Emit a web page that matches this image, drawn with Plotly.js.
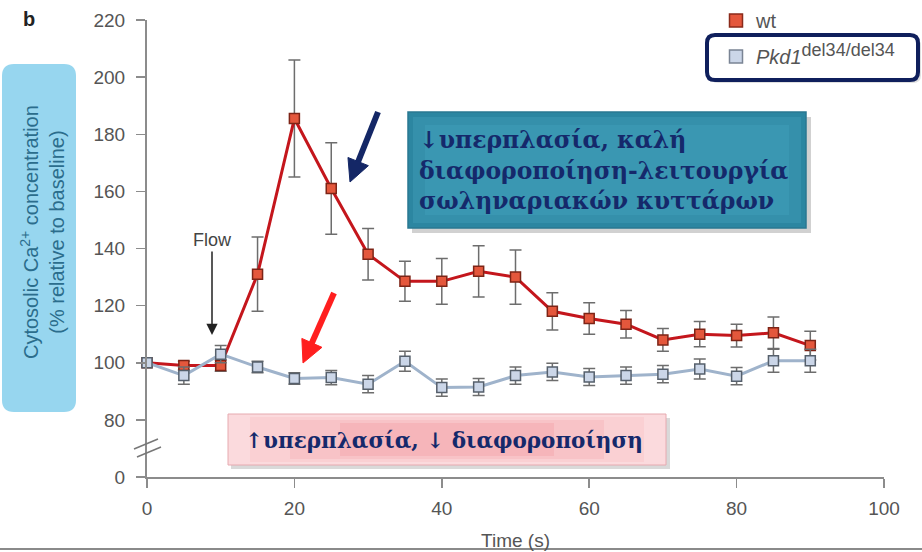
<!DOCTYPE html>
<html>
<head>
<meta charset="utf-8">
<script src="https://cdn.plot.ly/plotly-3.0.1.min.js"></script>
<style>html,body{margin:0;padding:0;background:#fff;}#chart{width:922px;height:552px;}</style>
</head>
<body>
<div id="chart"></div>
<script>
// ---- data ----
const timeS = [0,5,10,15,20,25,30,35,40,45,50,55,60,65,70,75,80,85,90];
const wtValues = [100,99,99,131,185.5,161,138,128.5,128.5,132,130,118,115.5,113.5,108,110,109.5,110.5,106];
const wtErr = [1,1.5,2,13,20.5,16,9,7,8,9,9.5,6.5,5.5,4.8,4,4.4,4,5.5,5];
const pkdValues = [100,95.5,103,98.5,94.5,94.8,92.5,100.5,91.3,91.5,95.5,96.8,95,95.5,96,97.8,95.3,100.7,100.7];
const pkdErr = [1,3,3,2,2,2.5,3,3.5,3,3,3,3,3,3,3,3.5,3,4,4];
const yTickVals = [60,80,100,120,140,160,180,200,220];
const yTickText = ['0','80','100','120','140','160','180','200','220'];
const xTickVals = [0,20,40,60,80,100];

// ---- layout helpers (pixel -> paper) ----
const L = 147, R = 38, T = 20, B = 75, W = 922, H = 552;
const PW = W - L - R, PH = H - T - B;
const px = x => (x - L) / PW;
const py = y => (H - B - y) / PH;
const pp = (x, y) => px(x) + ',' + py(y);
function roundRect(x0, y0, x1, y1, r) {
  return 'M' + pp(x0 + r, y0) + ' L' + pp(x1 - r, y0) + ' Q' + pp(x1, y0) + ' ' + pp(x1, y0 + r) +
    ' L' + pp(x1, y1 - r) + ' Q' + pp(x1, y1) + ' ' + pp(x1 - r, y1) +
    ' L' + pp(x0 + r, y1) + ' Q' + pp(x0, y1) + ' ' + pp(x0, y1 - r) +
    ' L' + pp(x0, y0 + r) + ' Q' + pp(x0, y0) + ' ' + pp(x0 + r, y0) + ' Z';
}
function rect(x0, y0, x1, y1, fill, line, lw) {
  return {type:'rect', xref:'paper', yref:'paper', x0:px(x0), x1:px(x1), y0:py(y1), y1:py(y0),
    fillcolor:fill, line:{color:line || 'rgba(0,0,0,0)', width:lw || 0}, layer:'below'};
}
function arrowShapes(tx, ty, hx, hy, color, w, headLen, headHalf) {
  const dx = hx - tx, dy = hy - ty, len = Math.hypot(dx, dy);
  const ux = dx / len, uy = dy / len, nx = -uy, ny = ux;
  const bx = hx - headLen * ux, by = hy - headLen * uy;
  return [
    {type:'line', xref:'paper', yref:'paper', x0:px(tx), y0:py(ty), x1:px(bx + ux), y1:py(by + uy),
     line:{color:color, width:w}, layer:'above'},
    {type:'path', xref:'paper', yref:'paper', layer:'above', fillcolor:color, line:{color:color, width:1},
     path:'M' + pp(hx, hy) + ' L' + pp(bx + headHalf * nx, by + headHalf * ny) + ' L' + pp(bx - headHalf * nx, by - headHalf * ny) + ' Z'}
  ];
}

const navy = '#15296b';
const errStyle = {type:'data', visible:true, thickness:1.5, width:6, color:'#6d6d6d'};

const traces = [
  {x: timeS, y: wtValues, mode:'lines+markers', name:'wt', showlegend:false,
   line:{color:'#c4161c', width:3},
   marker:{symbol:'square', size:10, color:'#e4573c', line:{color:'#7d2416', width:1.5}},
   error_y: Object.assign({array: wtErr}, errStyle), cliponaxis:false},
  {x: timeS, y: pkdValues, mode:'lines+markers', name:'Pkd1', showlegend:false,
   line:{color:'#9fb3cb', width:3},
   marker:{symbol:'square', size:10, color:'#cbd6e8', line:{color:'#56606c', width:1.5}},
   error_y: Object.assign({array: pkdErr}, errStyle), cliponaxis:false},
  {x:[null], y:[null], mode:'markers', name:'wt', legendgroup:'a',
   marker:{symbol:'square', size:13, color:'#e4573c', line:{color:'#8a2a1a', width:1.5}}},
  {x:[null], y:[null], mode:'markers', name:'<i>Pkd1</i><sup><span style="font-size:18px">del34/del34</span></sup>', legendgroup:'b',
   marker:{symbol:'square', size:13, color:'#cbd6e8', line:{color:'#7a8494', width:1.5}}}
];

const shapes = [
  // y-title background
  {type:'path', xref:'paper', yref:'paper', path: roundRect(2, 64, 76, 412, 12), fillcolor:'#97d6ef', line:{width:0}, layer:'below'},
  // teal box shadow + box
  rect(412, 117, 811, 233, 'rgba(0,0,0,0.18)'),
  rect(408, 112, 806, 228, '#2c86a1', '#2a7891', 1.5),
  rect(413, 117, 801, 223, '#3590ab'),
  rect(425, 125, 789, 215, '#3a97b2'),
  // pink box shadow + box
  rect(231, 418, 670, 469, 'rgba(0,0,0,0.15)'),
  rect(228, 414, 666, 465, '#fbdadd', '#e6aab0', 1),
  rect(250, 417, 644, 462, '#fad0d3'),
  rect(290, 420, 604, 459, '#f8c3c7'),
  rect(340, 423, 554, 456, '#f6b5ba'),
  // legend highlight box
  {type:'path', xref:'paper', yref:'paper', path: roundRect(710, 38, 921, 83, 8), fillcolor:'rgba(0,0,0,0.12)', line:{width:0}, layer:'below'},
  {type:'path', xref:'paper', yref:'paper', path: roundRect(707, 35, 918, 80, 8), fillcolor:'#ffffff', line:{color:'#0f1f5c', width:4}, layer:'below'},
  // axis break marks
  {type:'line', xref:'paper', yref:'paper', x0:px(134), y0:py(449), x1:px(158), y1:py(439), line:{color:'#777', width:1.5}, layer:'above'},
  {type:'line', xref:'paper', yref:'paper', x0:px(137), y0:py(457), x1:px(161), y1:py(447), line:{color:'#777', width:1.5}, layer:'above'},
  // bottom frame line
  {type:'line', xref:'paper', yref:'paper', x0:px(0), y0:py(549), x1:px(922), y1:py(549), line:{color:'#8a8a8a', width:2}}
].concat(
  arrowShapes(378, 112, 350, 182, '#142766', 6, 22, 11),
  arrowShapes(334, 293, 303, 363, '#ff1f1f', 6, 22, 11)
);

const serif = 'DejaVu Serif, Liberation Serif, serif';
const sans = 'Liberation Sans, Arial, sans-serif';
const annotations = [
  {xref:'paper', yref:'paper', x:px(29), y:py(19), xanchor:'center', yanchor:'middle', text:'<b>b</b>', showarrow:false, font:{family:sans, size:20, color:'#222'}},
  {xref:'paper', yref:'paper', x:px(42), y:py(232), xanchor:'center', yanchor:'middle', text:'Cytosolic Ca<sup>2+</sup> concentration<br>(% relative to baseline)', textangle:-90, showarrow:false,
   font:{family:sans, size:20, color:'#2b6d8c'}},
  {xref:'paper', yref:'paper', x:px(417), y:py(170), xanchor:'left', yanchor:'middle', align:'left', showarrow:false,
   text:'<b>↓υπερπλασία, καλή<br>διαφοροποίηση-λειτουργία<br>σωληναριακών κυττάρων</b>',
   font:{family:serif, size:23.5, color:navy}},
  {xref:'paper', yref:'paper', x:px(444), y:py(440), xanchor:'center', yanchor:'middle', showarrow:false,
   text:'<b>↑υπερπλασία, ↓ διαφοροποίηση</b>', font:{family:serif, size:21.5, color:navy}},
  // flow arrow
  {xref:'paper', yref:'paper', x:px(212), y:py(335), ax:0, ay:-95, text:'Flow', showarrow:true,
   arrowhead:2, arrowsize:1.5, arrowwidth:1.5, arrowcolor:'#222', font:{family:sans, size:18, color:'#444'}}
];

const axisCommon = {showgrid:false, zeroline:false, showline:true, linecolor:'#8c8c8c', linewidth:2,
  ticks:'outside', ticklen:9, tickwidth:1.5, tickcolor:'#8c8c8c',
  tickfont:{family:sans, size:19, color:'#555'}};

const layout = {
  width: W, height: H,
  margin:{l:L, r:R, t:T, b:B, pad:0, autoexpand:false},
  paper_bgcolor:'#ffffff', plot_bgcolor:'rgba(0,0,0,0)',
  xaxis: Object.assign({}, axisCommon, {range:[0,100], tickvals:xTickVals, ticklabelstandoff:4, automargin:false,
    title:{text:'Time (s)', font:{family:sans, size:19, color:'#555'}, standoff:16}}),
  yaxis: Object.assign({}, axisCommon, {range:[60,220], tickvals:yTickVals, ticktext:yTickText, ticklabelstandoff:7, automargin:false}),
  showlegend:true,
  legend:{x:px(716), y:py(1), xanchor:'left', yanchor:'top', bgcolor:'rgba(0,0,0,0)', tracegroupgap:7,
    font:{family:sans, size:20, color:'#555'}, itemwidth:30},
  shapes: shapes,
  annotations: annotations
};

Plotly.newPlot('chart', traces, layout, {displayModeBar:false, staticPlot:true});
</script>
</body>
</html>
